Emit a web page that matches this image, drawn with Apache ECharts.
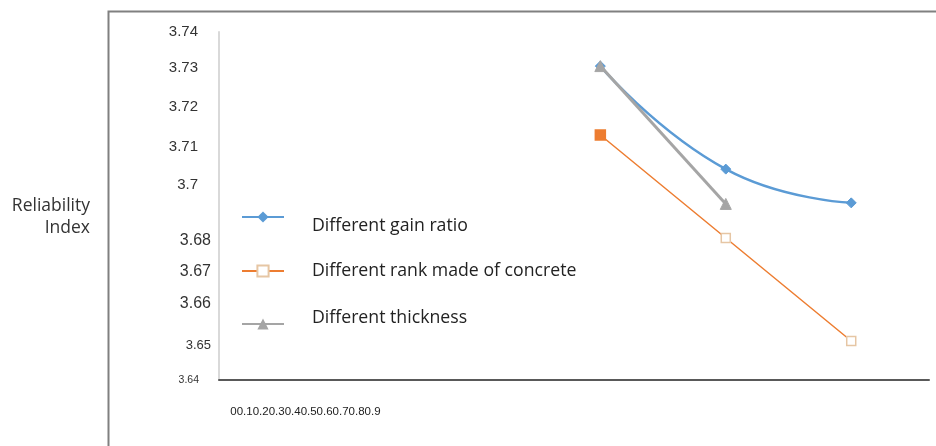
<!DOCTYPE html>
<html>
<head>
<meta charset="utf-8">
<script src="https://cdn.jsdelivr.net/npm/echarts@6/dist/echarts.min.js"></script>
<style>html,body{margin:0;padding:0;background:#fff}#c{width:936px;height:446px}</style>
</head>
<body>
<div id="c"></div>
<script>
// ---- data ----
var xValues = [1, 2, 3];
var seriesNames = ['Different gain ratio', 'Different rank made of concrete', 'Different thickness'];
var gainRatio = [3.7302, 3.7006, 3.6909];
var concreteRank = [3.7104, 3.6808, 3.6512];
var thickness = [3.7302, 3.6906];
var yTickLabels = ['3.74', '3.73', '3.72', '3.71', '3.7', '3.68', '3.67', '3.66', '3.65', '3.64'];
var yTickValues = [3.74, 3.72966, 3.71845, 3.70695, 3.69603, 3.67994, 3.67103, 3.66184, 3.65006, 3.64];
var xTickLabels = ['0', '0.1', '0.2', '0.3', '0.4', '0.5', '0.6', '0.7', '0.8', '0.9'];
var yAxisTitle = ['Reliability', 'Index'];

function pairs(vals) { return vals.map(function (v, i) { return [xValues[i], v]; }); }
var labelStyleKey = ['a','a','a','a','a','b','b','b','c','d'];

var chart = echarts.init(document.getElementById('c'), null, { renderer: 'canvas' });
var font = 'Liberation Sans';
var txtFont = 'Open Sans';
var legendRich = {
  t: { fontFamily: txtFont, fontSize: 17.7, color: '#222', padding: [0, 0, 0, 23] },
  g18: { fontSize: 1, lineHeight: 18, height: 18 },
  g12: { fontSize: 1, lineHeight: 12, height: 12 }
};
function legendCfg(name, top, fmt) {
  return {
    orient: 'vertical', left: 241, top: top, padding: 0,
    itemWidth: 42, itemHeight: 14,
    data: [name],
    formatter: fmt,
    textStyle: { rich: legendRich }
  };
}
var option = {
  animation: false,
  backgroundColor: '#fff',
  graphic: [{
    type: 'rect', left: 106, top: 9, z: -10,
    shape: { width: 1000, height: 1000 },
    style: { fill: 'none', stroke: '#808080', lineWidth: 2 }
  }],
  grid: { left: 219, right: 7, top: 32, bottom: 66 },
  legend: [
    legendCfg(seriesNames[0], 199, function (n) { return '{g18| }\n{t|' + n + '}'; }),
    legendCfg(seriesNames[1], 262, function (n) { return '{t|' + n + '}'; }),
    legendCfg(seriesNames[2], 309, function (n) { return '{t|' + n + '}\n{g12| }'; })
  ],
  xAxis: {
    type: 'value', min: -2.04, max: 3.62,
    splitLine: { show: false },
    axisTick: { show: false },
    axisLine: { show: true, onZero: false, lineStyle: { color: '#595959', width: 2 } },
    axisLabel: {
      customValues: [-1.95],
      formatter: function () { return xTickLabels.join(''); },
      align: 'left', margin: 26,
      fontFamily: font, fontSize: 11.5, color: '#222'
    }
  },
  yAxis: {
    type: 'value', min: 3.64, max: 3.74,
    name: '{g| }\n{n|' + yAxisTitle.join('}\n{n|') + '}',
    nameLocation: 'middle', nameRotate: 0, nameGap: 129,
    nameTextStyle: {
      align: 'right',
      rich: {
        g: { fontSize: 1, lineHeight: 22, height: 22 },
        n: { fontFamily: txtFont, fontSize: 17.5, lineHeight: 22, color: '#333', align: 'right' }
      }
    },
    splitLine: { show: false },
    axisTick: { show: false },
    axisLine: { show: true, onZero: false, lineStyle: { color: '#d9d9d9', width: 2 } },
    axisLabel: {
      customValues: yTickValues,
      margin: 8,
      formatter: function (v) {
        var best = 0, bd = 1e9;
        for (var i = 0; i < yTickValues.length; i++) {
          var d = Math.abs(yTickValues[i] - v);
          if (d < bd) { bd = d; best = i; }
        }
        return '{' + labelStyleKey[best] + '|' + yTickLabels[best] + '}';
      },
      rich: {
        a: { fontFamily: font, fontSize: 15, color: '#333', padding: [0, 13, 0, 0] },
        b: { fontFamily: font, fontSize: 16, color: '#333' },
        c: { fontFamily: font, fontSize: 13, color: '#333' },
        d: { fontFamily: font, fontSize: 10.5, color: '#333', padding: [0, 12, 0, 0] }
      }
    }
  },
  series: [
    {
      name: seriesNames[0], type: 'line', smooth: 0.5,
      data: pairs(gainRatio),
      symbol: 'diamond', symbolSize: 10,
      lineStyle: { color: '#5b9bd5', width: 2.5 },
      itemStyle: { color: '#5b9bd5', borderColor: '#5b9bd5' }
    },
    {
      name: seriesNames[1], type: 'line',
      data: pairs(concreteRank).map(function (p, i) {
        return i === 0 ? { value: p, itemStyle: { color: '#ed7d31', borderColor: '#ed7d31' }, symbolSize: 10 } : { value: p };
      }),
      symbol: 'rect', symbolSize: 9,
      lineStyle: { color: '#ed7d31', width: 1.5 },
      itemStyle: { color: '#ffffff', borderColor: '#e6c6a4', borderWidth: 1.5 }
    },
    {
      name: seriesNames[2], type: 'line',
      data: pairs(thickness),
      symbol: 'triangle', symbolSize: 11,
      lineStyle: { color: '#a5a5a5', width: 3 },
      itemStyle: { color: '#a5a5a5', borderColor: '#a5a5a5' }
    }
  ]
};
chart.setOption(option);
</script>
</body>
</html>
